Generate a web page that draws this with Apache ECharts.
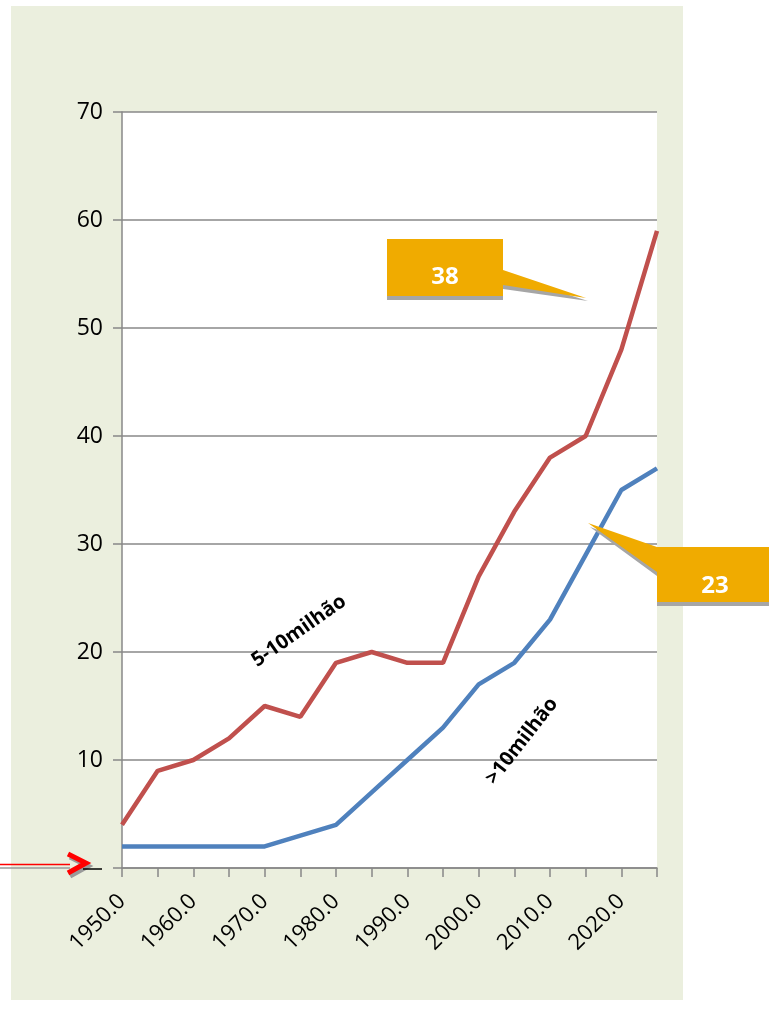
<!DOCTYPE html>
<html><head><meta charset="utf-8">
<script src="https://cdn.jsdelivr.net/npm/echarts@6/dist/echarts.min.js"></script>
<style>html,body{margin:0;padding:0;background:#fff}#c{width:769px;height:1009px}</style>
</head><body><div id="c"></div>
<script>
var years = [1950,1955,1960,1965,1970,1975,1980,1985,1990,1995,2000,2005,2010,2015,2020,2025];
var mid = [4,9,10,12,15,14,19,20,19,19,27,33,38,40,48,59];
var big = [2,2,2,2,2,3,4,7,10,13,17,19,23,29,35,37];
var yTicks = [0,10,20,30,40,50,60,70];
var xLabelYears = [1950,1960,1970,1980,1990,2000,2010,2020];
var seriesNames = ['5-10milhão','>10milhão'];
var calloutValues = ['38','23'];

var FONT = 'Open Sans';
var chart = echarts.init(document.getElementById('c'), null, {renderer:'canvas'});
function pairs(v){return years.map(function(y,i){return [y,v[i]];});}
var orange = '#F0AB00', shadow = '#A6A6A6';
chart.setOption({
  backgroundColor:'#ffffff',
  animation:false,
  graphic:[
    {type:'rect', z:-10, shape:{x:11,y:6,width:672,height:994}, style:{fill:'#EBEFDE'}},
    // arrow at bottom-left
    {type:'line', z:50, shape:{x1:0,y1:868,x2:70,y2:868}, style:{stroke:'#9a9a9a',lineWidth:1.5}},
    {type:'line', z:51, shape:{x1:0,y1:864.5,x2:70,y2:864.5}, style:{stroke:'#ff0000',lineWidth:1.5}},
    {type:'polyline', z:50, shape:{points:[[70,857],[88,866],[70,876]]}, style:{stroke:'#9a9a9a',lineWidth:5,fill:null}},
    {type:'polyline', z:51, shape:{points:[[68,854],[86,863],[68,873]]}, style:{stroke:'#ff0000',lineWidth:5,fill:null}},
    {type:'line', z:51, shape:{x1:83,y1:869,x2:102,y2:869}, style:{stroke:'#000',lineWidth:1.5}},
    // callout 38
    {type:'polygon', z:60, shape:{points:[[387,243],[503,243],[503,274],[588,301],[503,289],[503,300],[387,300]]}, style:{fill:shadow}},
    {type:'polygon', z:61, shape:{points:[[387,239],[503,239],[503,270],[586,298],[503,285],[503,296],[387,296]]}, style:{fill:orange}},
    {type:'text', z:62, x:445, y:277, style:{text:calloutValues[0], fill:'#fff', font:'bold 24px "'+FONT+'"', align:'center', verticalAlign:'middle'}},
    // callout 23
    {type:'polygon', z:60, shape:{points:[[590,527],[657,551],[769,551],[769,606],[657,606],[657,576]]}, style:{fill:shadow}},
    {type:'polygon', z:61, shape:{points:[[588,523],[657,547],[769,547],[769,602],[657,602],[657,572]]}, style:{fill:orange}},
    {type:'text', z:62, x:715, y:586, style:{text:calloutValues[1], fill:'#fff', font:'bold 24px "'+FONT+'"', align:'center', verticalAlign:'middle'}},
    // series labels
    {type:'text', z:62, x:299, y:631, rotation:35*Math.PI/180, style:{text:seriesNames[0], fill:'#000', font:'bold 20px "'+FONT+'"', align:'center', verticalAlign:'middle'}},
    {type:'text', z:62, x:522, y:741, rotation:52*Math.PI/180, style:{text:seriesNames[1], fill:'#000', font:'bold 20px "'+FONT+'"', align:'center', verticalAlign:'middle'}}
  ],
  grid:{left:122, top:112, width:535, height:756, show:true, backgroundColor:'#ffffff', borderWidth:0, containLabel:false},
  xAxis:{type:'value', min:1950, max:2025, interval:5,
    axisLine:{show:true, onZero:false, lineStyle:{color:'#888', width:1.5}},
    axisTick:{show:true, length:9, lineStyle:{color:'#888', width:1.5}},
    splitLine:{show:false},
    axisLabel:{rotate:45, margin:30, color:'#000', fontFamily:FONT, fontSize:22,
      showMinLabel:true, showMaxLabel:true,
      formatter:function(v){return xLabelYears.indexOf(v)>=0 ? v.toFixed(1) : '';}}
  },
  yAxis:{type:'value', min:0, max:70, interval:10,
    axisLine:{show:true, lineStyle:{color:'#888', width:1.5}},
    axisTick:{show:true, length:9, lineStyle:{color:'#888', width:1.5}},
    splitLine:{show:true, lineStyle:{color:'#888', width:1.5}},
    axisLabel:{margin:19, color:'#000', fontFamily:FONT, fontSize:23,
      formatter:function(v){return (v===0 || yTicks.indexOf(v)<0) ? '' : String(v);}}
  },
  series:[
    {name:seriesNames[0], type:'line', data:pairs(mid), showSymbol:false, symbol:'none', lineStyle:{color:'#C0504D', width:4.5}, z:5},
    {name:seriesNames[1], type:'line', data:pairs(big), showSymbol:false, symbol:'none', lineStyle:{color:'#4F81BD', width:4.5}, z:5}
  ]
});
</script></body></html>
